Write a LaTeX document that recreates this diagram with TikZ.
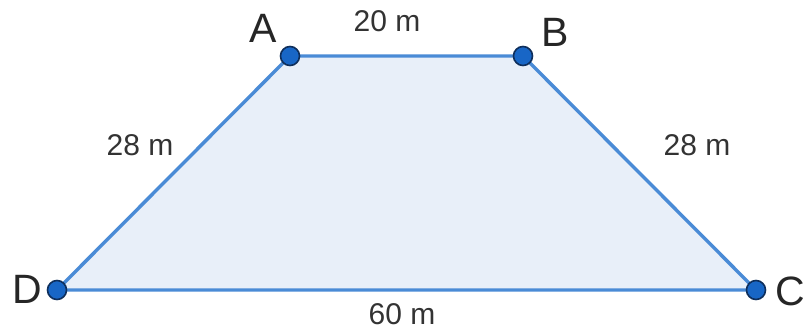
\documentclass[tikz,border=0pt]{standalone}
\usepackage{fontspec}
\setmainfont{Liberation Sans}
\usetikzlibrary{positioning}
\definecolor{edgeblue}{HTML}{4A8BD6}
\definecolor{areablue}{HTML}{E8EFF9}
\definecolor{dotblue}{HTML}{1866C6}
\definecolor{dotrim}{HTML}{0F2F5C}
\begin{document}
\begin{tikzpicture}[
    x=1pt, y=-1pt,
    vtx/.style={circle, draw=dotrim, fill=dotblue, line width=1.6pt, minimum size=19pt, inner sep=0pt},
    vlab/.style={font=\fontsize{41}{41}\selectfont, text=black!85, inner sep=0pt},
    elab/.style={font=\fontsize{30}{30}\selectfont, text=black!80, inner sep=0pt},
    side/.style={draw=edgeblue, line width=3.4pt, line join=round},
  ]
  \useasboundingbox (0,0) rectangle (806,330);
  % corners of the trapezium
  \coordinate (a) at (290,56);
  \coordinate (b) at (523,56);
  \coordinate (c) at (756,290);
  \coordinate (d) at (57,290);
  \fill[areablue] (a) -- (b) -- (c) -- (d) -- cycle;
  \draw[side] (a) -- (b) -- (c) -- (d) -- cycle;
  \foreach \p in {a,b,c,d}{
    \node[vtx] (\p dot) at (\p) {};
  }
  % vertex names
  \node[vlab] (la) at (263,28) {A};
  \node[vlab] (lb) at (555,32) {B};
  \node[vlab] (lc) at (790,291) {C};
  \node[vlab] (ld) at (27,289) {D};
  % side lengths
  \node[elab] (lab) at (387,21) {20 m};
  \node[elab] (lda) at (140,145) {28 m};
  \node[elab] (lbc) at (697,145) {28 m};
  \node[elab] (lcd) at (402,314) {60 m};
\end{tikzpicture}
\end{document}
